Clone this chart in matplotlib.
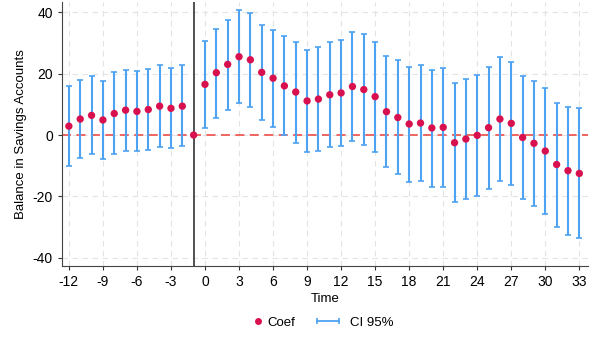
import numpy as np
import matplotlib.pyplot as plt
from matplotlib.lines import Line2D
from matplotlib.legend_handler import HandlerLine2D

plt.rcParams['font.family'] = ['Liberation Sans', 'DejaVu Sans']
plt.rcParams['axes.unicode_minus'] = False

# event time, coefficient and 95% CI bounds
time = np.arange(-12, 34)
coef = [2.9, 5.2, 6.4, 4.9, 7.0, 8.1, 7.7, 8.3, 9.4, 8.7, 9.4, 0.0,
        16.5, 20.3, 23.0, 25.5, 24.5, 20.4, 18.5, 16.0, 14.0, 11.1, 11.7, 13.1,
        13.7, 15.8, 14.8, 12.5, 7.6, 5.7, 3.6, 3.9, 2.3, 2.5, -2.5, -1.3,
        -0.1, 2.4, 5.2, 3.8, -0.8, -2.7, -5.2, -9.6, -11.6, -12.5]
ci_low = [-10.1, -7.4, -6.3, -7.8, -6.1, -5.1, -5.3, -4.8, -3.8, -4.3, -3.6, np.nan,
          2.4, 5.6, 8.2, 10.5, 9.2, 4.9, 2.7, 0.0, -2.5, -5.6, -5.3, -3.9,
          -3.6, -2.0, -3.1, -5.4, -10.3, -12.8, -15.2, -15.0, -16.8, -16.8, -21.7, -20.7,
          -19.8, -17.6, -15.0, -16.4, -20.7, -23.1, -25.7, -29.8, -32.6, -33.5]
ci_high = [16.0, 17.9, 19.2, 17.7, 20.4, 21.3, 20.8, 21.6, 22.8, 21.7, 22.8, np.nan,
           30.7, 34.6, 37.6, 40.7, 39.8, 35.9, 34.3, 32.3, 30.2, 27.7, 28.6, 30.3,
           30.9, 33.5, 32.8, 30.2, 25.7, 24.4, 22.2, 22.9, 21.3, 21.7, 16.8, 18.1,
           19.6, 22.3, 25.4, 23.8, 19.2, 17.7, 15.2, 10.5, 9.2, 8.7]

coef = np.array(coef)
ci_low = np.array(ci_low)
ci_high = np.array(ci_high)

fig = plt.figure(figsize=(5.89, 3.37), dpi=100)
ax = fig.add_axes([0.105, 0.211, 0.893, 0.783])

ax.grid(True, color='#e3e3e3', linestyle=(0, (5, 4)), linewidth=0.8)
ax.set_axisbelow(True)

ax.axhline(0, color='#ee5a55', linestyle=(0, (5, 3)), linewidth=1.3, zorder=1)
ax.axvline(-1, color='#333333', linewidth=1.2, zorder=1)

ax.errorbar(time, coef, yerr=[coef - ci_low, ci_high - coef], fmt='none',
            ecolor='#4da2f2', elinewidth=1.5, capsize=2.5, capthick=1.2, zorder=2)
ax.scatter(time, coef, s=28, color='#d8114e', zorder=3, edgecolors='none')

ax.set_xlim(-12.62, 33.75)
ax.set_ylim(-42.6, 43.3)
ax.set_xticks(np.arange(-12, 34, 3))
ax.set_yticks([-40, -20, 0, 20, 40])
ax.tick_params(labelsize=10, length=3, color='#333333')

for s in ['top', 'right']:
    ax.spines[s].set_visible(False)
for s in ['left', 'bottom']:
    ax.spines[s].set_color('#444444')

ax.set_xlabel('Time', fontsize=9.5, labelpad=3)
ax.set_ylabel('Balance in Savings Accounts', fontsize=9.5, labelpad=4)

# legend: two pieces so the handles can have different widths
h_coef = Line2D([], [], linestyle='none', marker='o', markersize=5,
                color='#d8114e', markeredgewidth=0)
h_ci = Line2D([], [], color='#4da2f2', linewidth=1.3, marker='|',
              markersize=4, markeredgewidth=1.2)
fig.legend([h_coef], ['Coef'], loc='center left', bbox_to_anchor=(0.4295, 0.042),
           frameon=False, fontsize=9.5, handlelength=0.8, handletextpad=0.3,
           borderpad=0, borderaxespad=0)
fig.legend([h_ci], ['CI 95%'], loc='center left', bbox_to_anchor=(0.531, 0.042),
           frameon=False, fontsize=9.5, handlelength=2.27, handletextpad=0.53,
           borderpad=0, borderaxespad=0,
           handler_map={h_ci: HandlerLine2D(numpoints=2)})

fig.savefig('out.png', dpi=100)
